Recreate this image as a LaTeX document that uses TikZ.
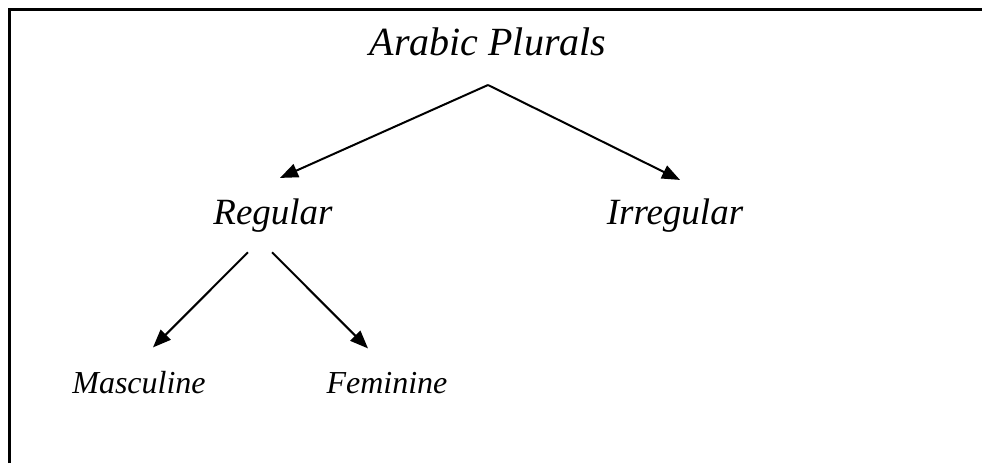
\documentclass[tikz,border=0pt]{standalone}
\usepackage{fontspec}
\setmainfont{Liberation Serif}
\usepackage{tikz}
\usetikzlibrary{arrows.meta,positioning,calc}

\begin{document}
\begin{tikzpicture}[
  x=0.5pt, y=-0.5pt,
  label/.style={inner sep=0pt, anchor=base, font=\itshape},
  trans/.style={-{Triangle[length=9pt, width=7pt]}, line width=1pt},
]
  \useasboundingbox (0,0) rectangle (982,463);
  \draw[line width=1.5pt] (9,463) -- (9,9) -- (982,9);

  \node[label, font=\fontsize{20}{24}\selectfont\itshape] (plurals) at (488,55) {Arabic Plurals};
  \node[label, font=\fontsize{18.5}{22}\selectfont\itshape] (regular) at (273,224) {Regular};
  \node[label, font=\fontsize{18.5}{22}\selectfont\itshape] (irregular) at (675,224) {Irregular};
  \node[label, font=\fontsize{16}{19}\selectfont\itshape] (masc) at (139,393) {Masculine};
  \node[label, font=\fontsize{16}{19}\selectfont\itshape] (fem) at (387,393) {Feminine};

  \coordinate (split) at ($(plurals.base)+(0,30)$);

  \draw[trans] (split) -- ($(regular.north)+(7,-20)$);
  \draw[trans] (split) -- ($(irregular.north)+(5,-18)$);
  \draw[trans] ($(regular.south)+(-25,20)$) -- ($(masc.north)+(14,-23)$);
  \draw[trans] ($(regular.south)+(-1,20)$) -- ($(fem.north)+(-19,-23)$);
\end{tikzpicture}
\end{document}
